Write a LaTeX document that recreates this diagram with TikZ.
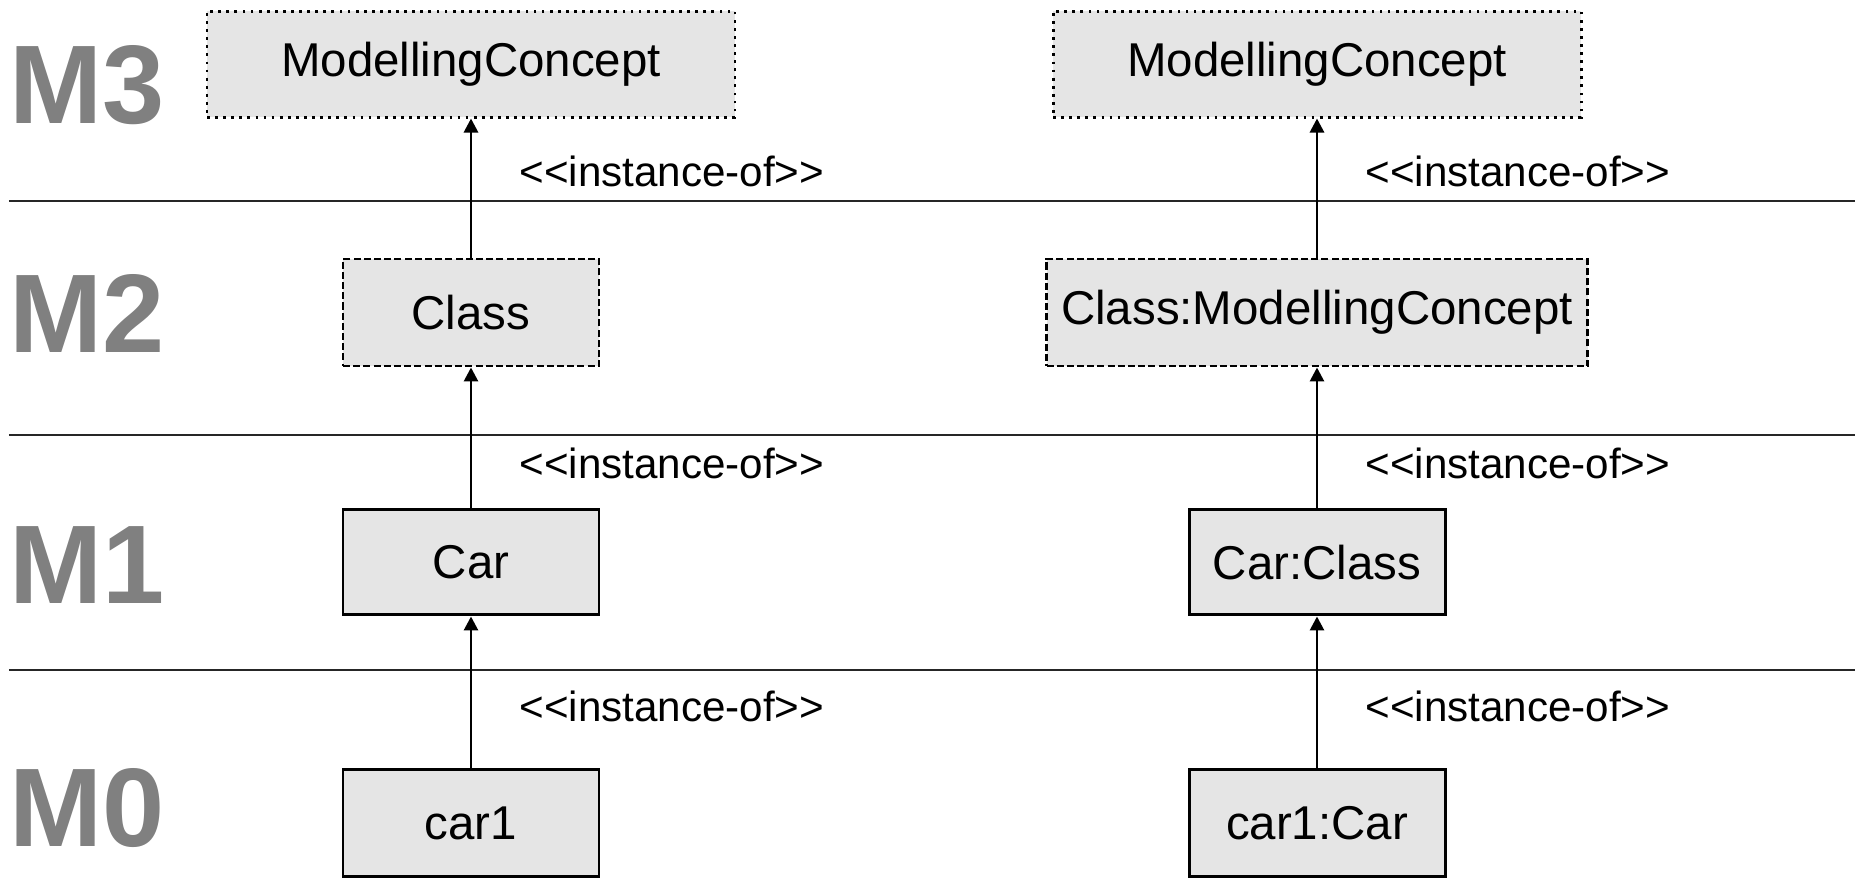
\documentclass[tikz,border=0pt]{standalone}
\usepackage{fontspec}
\setmainfont{Liberation Sans}
\usetikzlibrary{arrows.meta, positioning}

\begin{document}
\begin{tikzpicture}[
  font=\fontsize{13.5pt}{16pt}\selectfont,
  box/.style={rectangle, draw, line width=0.85pt, fill=black!10, align=center, inner sep=2pt},
  meta/.style={box, dash pattern=on 0.8pt off 1.5pt},
  mmodel/.style={box, dash pattern=on 2pt off 0.9pt},
  level/.style={anchor=west, inner sep=0pt, text=black!50, font=\fontsize{31.8pt}{34pt}\selectfont\bfseries},
  stereo/.style={anchor=west, xshift=0.47cm, inner sep=0pt, font=\fontsize{12pt}{14pt}\selectfont},
  inst/.style={-{Triangle[length=0.14cm, width=0.14cm]}, line width=0.8pt},
  sep/.style={line width=0.6pt, black!85}
]
\useasboundingbox (0,0) rectangle (18.55,-8.77);

% layer separators
\coordinate (s3) at (0.09,-2.01);
\coordinate (s2) at (0.09,-4.35);
\coordinate (s1) at (0.09,-6.70);
\draw [sep] (s3) -- (s3 -| 18.55,0);
\draw [sep] (s2) -- (s2 -| 18.55,0);
\draw [sep] (s1) -- (s1 -| 18.55,0);

% levels
\node (m3) [level] at (0.09,-0.85) {M3};
\node (m2) [level] at (0.09,-3.13) {M2};
\node (m1) [level] at (0.09,-5.65) {M1};
\node (m0) [level] at (0.09,-8.08) {M0};

% left column
\node (mcL)   [meta, minimum width=5.28cm, minimum height=1.06cm] at (4.71,-0.64) {ModellingConcept};
\node (classL) [mmodel, minimum width=2.56cm, minimum height=1.07cm, below=1.39cm of mcL] {Class};
\node (carL)  [box, minimum width=2.56cm, minimum height=1.05cm, below=1.41cm of classL] {Car};
\node (car1L) [box, minimum width=2.56cm, minimum height=1.07cm, below=1.52cm of carL] {car1};

% right column
\node (mcR)   [meta, minimum width=5.28cm, minimum height=1.06cm] at (13.17,-0.64) {ModellingConcept};
\node (classR) [mmodel, minimum width=5.41cm, minimum height=1.07cm, below=1.39cm of mcR] {Class:ModellingConcept};
\node (carR)  [box, minimum width=2.56cm, minimum height=1.05cm, below=1.41cm of classR] {Car:Class};
\node (car1R) [box, minimum width=2.56cm, minimum height=1.07cm, below=1.52cm of carR] {car1:Car};

\draw [inst] (classL) -- node[stereo, pos=0.62]{<{}<instance-of>{}>} (mcL);
\draw [inst] (carL)   -- node[stereo, pos=0.32]{<{}<instance-of>{}>} (classL);
\draw [inst] (car1L)  -- node[stereo, pos=0.41]{<{}<instance-of>{}>} (carL);
\draw [inst] (classR) -- node[stereo, pos=0.62]{<{}<instance-of>{}>} (mcR);
\draw [inst] (carR)   -- node[stereo, pos=0.32]{<{}<instance-of>{}>} (classR);
\draw [inst] (car1R)  -- node[stereo, pos=0.41]{<{}<instance-of>{}>} (carR);
\end{tikzpicture}
\end{document}
